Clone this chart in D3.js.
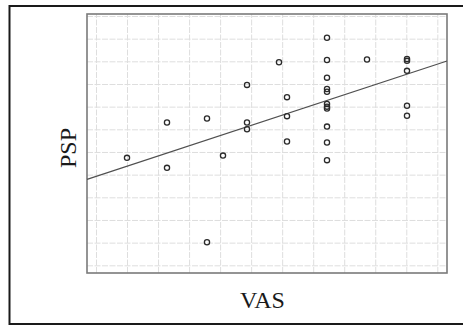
<!DOCTYPE html>
<html>
<head>
<meta charset="utf-8">
<script src="https://cdn.jsdelivr.net/npm/d3@7"></script>
<style>
  html, body { margin: 0; padding: 0; background: #fff; }
  svg { display: block; }
</style>
</head>
<body>
<svg id="chart" width="463" height="326"></svg>
<script>
// VAS score of each subject
const vas = [2, 3, 3, 4, 4, 4.4, 5, 5, 5, 5.8, 6, 6, 6,
             7, 7, 7, 7, 7, 7, 7, 7, 7, 7, 7,
             8, 9, 9, 9, 9, 9];
// matching PSP score
const psp = [58.7, 66.5, 56.5, 67.4, 40.1, 59.2, 74.8, 66.5, 65.0, 79.8, 72.1, 67.9, 62.3,
             85.2, 80.3, 76.4, 73.9, 73.3, 70.6, 70.0, 69.6, 65.6, 62.1, 58.2,
             80.4, 80.5, 80.1, 77.9, 70.2, 68.0];
// fitted line PSP = intercept + slope * VAS
const fitIntercept = 51.07;
const fitSlope = 2.9;

const vasDomain = [1, 10];
const pspDomain = [33.3, 90.44];

const svg = d3.select("#chart");
const plot = { left: 87, right: 447, top: 14, bottom: 273 };

const x = d3.scaleLinear().domain(vasDomain).range([plot.left, plot.right]);
const y = d3.scaleLinear().domain(pspDomain).range([plot.bottom, plot.top]);

// outer frame
svg.append("rect")
  .attr("x", 9.5).attr("y", 6).attr("width", 470).attr("height", 318)
  .attr("fill", "none").attr("stroke", "#1a1a1a").attr("stroke-width", 2);

// background grid: 12 evenly spaced lines each way, inset from the frame
const gx = d3.scaleLinear().domain([0, 11]).range([96, 437.3]);
const gy = d3.scaleLinear().domain([0, 11]).range([16, 265.3]);
const grid = svg.append("g");
grid.append("g")
  .attr("transform", `translate(0,${plot.bottom})`)
  .call(d3.axisBottom(gx).tickValues(d3.range(12)).tickSize(-(plot.bottom - plot.top)).tickFormat(""))
  .call(g => g.select(".domain").remove());
grid.append("g")
  .attr("transform", `translate(${plot.left},0)`)
  .call(d3.axisLeft(gy).tickValues(d3.range(12)).tickSize(-(plot.right - plot.left)).tickFormat(""))
  .call(g => g.select(".domain").remove());
grid.selectAll("line")
  .attr("stroke", "#dedede").attr("stroke-width", 1).attr("stroke-dasharray", "6,1.5");

// plot border
svg.append("rect")
  .attr("x", plot.left).attr("y", plot.top)
  .attr("width", plot.right - plot.left).attr("height", plot.bottom - plot.top)
  .attr("fill", "none").attr("stroke", "#7a7a7a").attr("stroke-width", 1.6);

// fit line across the VAS range
const fit = vasDomain.map(v => ({ v, p: fitIntercept + fitSlope * v }));
svg.append("path")
  .datum(fit)
  .attr("d", d3.line().x(d => x(d.v)).y(d => y(d.p)))
  .attr("fill", "none").attr("stroke", "#505050").attr("stroke-width", 1.2);

// subjects
svg.append("g").selectAll("circle")
  .data(vas.map((v, i) => ({ v, p: psp[i] })))
  .join("circle")
  .attr("cx", d => x(d.v)).attr("cy", d => y(d.p)).attr("r", 2.6)
  .attr("fill", "none").attr("stroke", "#2a2a2a").attr("stroke-width", 1.3);

// axis titles
svg.append("text")
  .attr("x", 262.5).attr("y", 308)
  .attr("text-anchor", "middle")
  .attr("font-family", "'Liberation Serif', 'Times New Roman', serif")
  .attr("font-size", 24).attr("fill", "#1a1a1a")
  .text("VAS");
svg.append("text")
  .attr("transform", "translate(76,148) rotate(-90)")
  .attr("text-anchor", "middle")
  .attr("font-family", "'Liberation Serif', 'Times New Roman', serif")
  .attr("font-size", 24).attr("fill", "#1a1a1a")
  .text("PSP");
</script>
</body>
</html>
